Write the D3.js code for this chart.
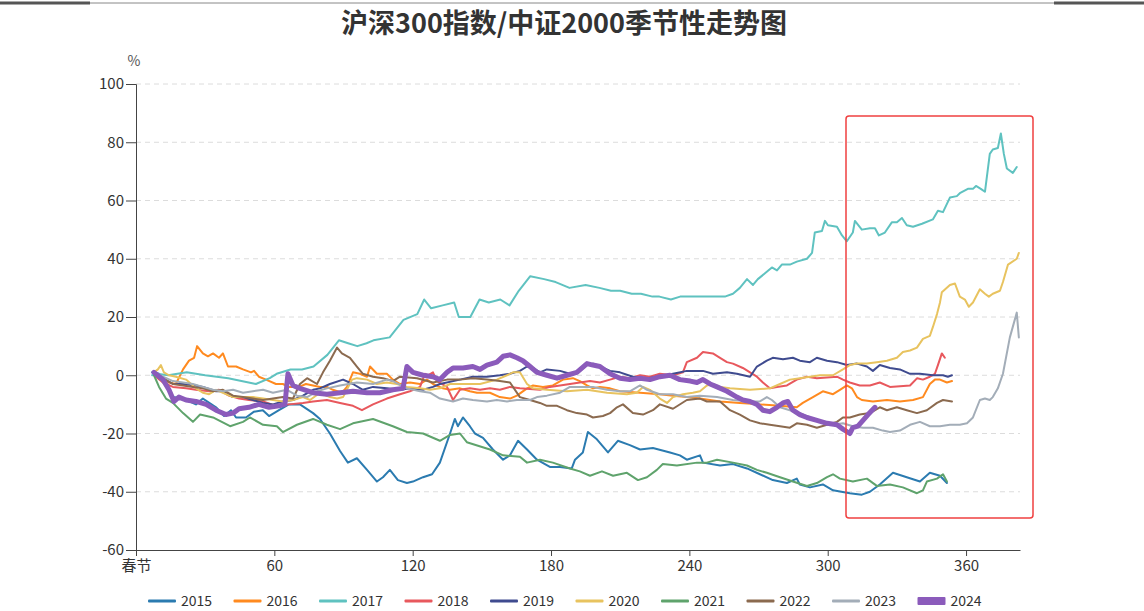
<!DOCTYPE html>
<html><head><meta charset="utf-8">
<script src="https://cdn.jsdelivr.net/npm/d3@7"></script>
<style>
html,body{margin:0;padding:0;background:#fff;}
svg{display:block;font-family:"Noto Sans CJK SC","Noto Sans",sans-serif;}
</style></head>
<body><svg id="c" width="1144" height="611"></svg>
<script>
const title = "沪深300指数/中证2000季节性走势图";
const years = ["2015","2016","2017","2018","2019","2020","2021","2022","2023","2024"];
const colors = ["#2b7bb0","#ff8a1f","#5fc2c0","#e8585d","#3f4b8f","#e8c35f","#5fa36c","#8b6a4f","#a3adb8","#8b5bbb"];
const xTickValues = [0,60,120,180,240,300,360];
const xTickLabels = ["春节","60","120","180","240","300","360"];
const yTickValues = [-60,-40,-20,0,20,40,60,80,100];
const yTickLabels = ["-60","-40","-20","0","20","40","60","80","100"];
const xMax = 383.4;

const s2015 = [[7,1],[10,0.5],[13,-3],[14.3,-5],[16,-7.5],[20.4,-8],[26,-10],[29,-8],[34.7,-11],[38.2,-14],[41.2,-12],[43.4,-14.5],[47.7,-14.5],[51.2,-12.5],[55,-12],[57.7,-14],[62,-12],[66.3,-10],[71.1,-10],[76.8,-13],[79.8,-15],[84.1,-20],[88.5,-26],[91.9,-30],[95.8,-28.5],[100.2,-32.5],[104.5,-36.5],[107.1,-35],[110.1,-32.5],[113.6,-36],[117.5,-37],[120.1,-36.5],[124.5,-35],[128.4,-34],[131.8,-30],[136.2,-20],[138.3,-15],[139.6,-17.5],[141.8,-14.5],[144.8,-17.5],[147,-20],[150.5,-21.5],[154.8,-25.5],[159.2,-29],[162.2,-27.5],[165.7,-22.5],[169.6,-25.5],[173.9,-29],[179.5,-31.5],[183.9,-31.5],[189,-32],[190.4,-29],[193.8,-26.5],[196,-19.5],[199.9,-22],[204.7,-26.5],[209,-22.5],[214.2,-24],[218.6,-25.5],[224.2,-25],[231.6,-26.5],[235.9,-27.5],[238.9,-29],[244.6,-27.5],[245.9,-30],[253.3,-31],[258.9,-30.5],[265,-32],[270.6,-34],[276.2,-36],[282.3,-37],[286.6,-35.5],[287.9,-37.5],[292.3,-38.5],[297.9,-37.5],[302.3,-39.5],[309.6,-40.5],[314.8,-41],[318.3,-40],[322.6,-37.5],[328.3,-33.5],[334.3,-35],[340,-36.5],[344.3,-33.5],[348.7,-34.5],[351.7,-37]];
const s2016 = [[7.8,1],[11.7,-1.5],[14.3,-2.5],[17.3,-3],[20.4,2],[23,5],[25.2,6],[26.5,10],[29,7.5],[31.2,6.5],[33.4,7.5],[36,6],[37.7,7.5],[39.9,3],[43.4,3],[46.4,2],[49.9,1],[51.2,1.5],[53.3,-0.5],[56.4,-1.5],[60.7,-3],[63.7,-3],[66.3,-4],[70.7,-4],[73.7,-3],[76.8,-3.5],[79.8,-4],[82.8,-4],[85.4,-5],[89.3,-6],[91.5,-4],[94.1,1],[97.1,0.5],[100.2,-0.5],[101.5,3],[104.5,0.5],[108.8,0.5],[111.4,-1.5],[114.5,-3],[118.8,-2.5],[123.2,-3],[126.2,-1.5],[128.8,-3],[133.1,-4.5],[136.2,-5],[140.5,-4.5],[144.8,-5.5],[147.9,-6],[153.5,-6],[157.8,-7.5],[162.2,-8],[165.2,-7],[169.6,-4.5],[172.2,-3.5],[176.5,-4],[180.8,-3.5],[185.2,-1.5],[189.5,-1],[192.5,-2],[195.6,-3.5],[198.2,-4.5],[201.2,-4],[205.6,-4.5],[209.9,-5.5],[218.6,-6],[227.2,-6.5],[232.9,-7],[238.9,-7.5],[244.6,-8],[253.3,-9],[261.9,-9.5],[270.6,-10],[279.3,-10.5],[286.6,-11],[289.2,-9.5],[293.6,-7.5],[297.9,-5.5],[302.3,-6.5],[305.3,-5],[308.3,-3.5],[310.5,-4.5],[312.7,-7.5],[314.8,-8.5],[319.6,-9],[325.7,-8.5],[331.3,-9],[337,-8.5],[341.3,-7.5],[344.3,-3],[346.5,-1.5],[348.7,-1.5],[351.7,-2.5],[353.9,-2]];
const s2017 = [[7,0],[9,0.5],[14,0],[22,1],[30,0],[40,-1],[52,-3],[58,-1],[61,0.5],[67,2],[72,2],[77,3],[83,7],[88,12],[92,11],[96,10],[100,11],[103,12],[110,13],[113,16],[116,19],[122,21],[125,26],[128,23],[133,24],[138,25],[140,20],[145,20],[149,26],[153,25],[158,26],[162,24],[166,29],[171,34],[177,33],[182,32],[188,30],[195,31],[201,30],[206,29],[210,29],[215,28],[219,28],[224,27],[227,27],[232,26],[236,27],[244.6,27],[255.4,27],[258.9,28],[261.9,30],[265,33],[267.6,31],[269.7,33],[272.8,35],[275.8,37],[278,36],[280.1,38],[283.6,38],[286.6,39],[291,40],[293.2,42],[294.4,49],[297.5,49.5],[298.8,53],[300.1,51.5],[304,51],[306.2,48],[308.3,46],[310.9,49],[311.8,53],[314.8,50],[318.3,50.5],[320.5,50.5],[322.2,48],[324.8,49],[327.8,52.5],[330,52.5],[332.2,54],[334.3,51.5],[337,51],[340.9,52],[345.6,53.5],[347.8,56.5],[350,56],[353,61],[356,61.5],[357.3,62.5],[360.8,64],[363,64],[364.3,65],[366.4,64],[368.2,63],[370.3,76],[371.6,77.5],[373.8,78],[375.1,83],[376.4,76],[377.7,71],[380.3,69.5],[382,71.5]];
const s2018 = [[7.8,0],[11.7,-2.5],[16,-4],[21.7,-4.5],[26,-5],[31.7,-5.5],[36,-5],[40.3,-7],[44.7,-8],[49,-8.5],[55.1,-9],[60.7,-10.5],[66.3,-10],[72.4,-9.5],[76.8,-9],[82.8,-8.5],[88.5,-9.5],[94.1,-10.5],[98,-12],[102.8,-10],[108.8,-8],[114.5,-6.5],[118.8,-5.5],[123.2,-4],[125.3,0.5],[126.6,0],[128.8,1],[130.5,-2],[134.9,-4],[137.5,-8.5],[140.5,-5],[144.8,-4.5],[149.2,-5],[153.5,-4.5],[157.8,-5],[162.2,-4],[166.5,-4.5],[175.2,-5],[179.5,-4],[183.9,-3.5],[192.5,-2.5],[196.9,-2],[201.2,-2.5],[205.6,-1.5],[209.9,-0.5],[214.2,-1],[218.6,0],[222.9,-0.5],[227.2,0.5],[232.9,0],[237.2,1],[238.9,4.5],[243.3,6],[245.9,8],[250.2,7.5],[253.3,6],[256.3,4.5],[258.9,4],[263.2,2.5],[266.3,1],[269.3,-0.5],[271.9,-2.5],[274.9,-4.5],[278,-4],[282.3,-3.5],[286.6,-1.5],[291,-0.5],[295.3,-1],[304,-0.5],[306.6,-1.5],[309.6,-2.5],[313.9,-3.5],[318.3,-3.5],[322.6,-2.5],[327,-4],[335.7,-3.5],[338.8,-1],[341.3,-1.5],[344.3,-0.5],[346.5,0.5],[347.8,3.5],[349.5,7.5],[350.8,6]];
const s2019 = [[7.8,1],[11.7,-1],[16,-3],[20.4,-3],[26,-3.5],[29,-4],[34.7,-5.5],[37.7,-5.5],[42.1,-7.5],[46.4,-7.5],[50.7,-8.5],[55.1,-9.5],[59.4,-10],[63.7,-9],[68.1,-8.5],[72.4,-7],[76.8,-5],[79.8,-4.5],[84.1,-3],[89.8,-1.5],[94.1,-3],[98.4,-5],[102.8,-4],[108.8,-4.5],[114.5,-5],[118.8,-4.5],[124.5,-5],[128.8,-4],[131.8,-3],[140.5,-1.5],[146.1,-0.5],[152.2,-0.5],[157.8,0],[162.2,0.5],[166.5,1.5],[169.6,3],[172.2,2.5],[175.2,1],[178.2,2],[183.9,1.5],[188.2,0.5],[192.5,1.5],[195.6,3.5],[198.2,4],[201.2,3],[205.6,1.5],[209.9,1],[215.5,-0.5],[221.6,-1],[227.2,-0.5],[232.9,0.5],[238.9,1.5],[245.9,1.5],[250.2,0.5],[256.3,1],[260.6,0.5],[266.3,-0.5],[269.3,3],[273.6,5],[276.2,6],[280.6,5.5],[284.9,6],[287.9,5],[292.3,4.5],[295.3,6],[299.7,5],[304,4.5],[308.3,3.5],[312.7,4],[317,3],[319.6,1.5],[322.6,3.5],[327,2.5],[331.3,2],[335.7,0.5],[340,0.5],[345.6,0],[350,0],[352.1,-0.5],[353.9,0]];
const s2020 = [[7.8,1],[9.5,2],[10.8,3.5],[12.1,1],[14.3,0],[17.3,-0.5],[21.7,-1.5],[26,-4.5],[29,-6],[31.7,-6.5],[34.7,-5],[37.7,-6],[42.1,-7.5],[46.4,-7.5],[50.7,-7.5],[55.1,-8],[59.4,-8.5],[63.7,-9],[68.1,-8.5],[72.4,-7.5],[75.5,-8.5],[79.8,-6],[84.1,-7.5],[87.2,-8],[89.8,-7.5],[93.7,-1.5],[95.8,-1],[100.2,-1.5],[104.5,-3],[108.8,-2.5],[113.2,-3],[117.5,-4],[123.2,-4.5],[127.5,-5],[131.8,-4.5],[136.2,-3],[140.5,-3],[149.2,-3],[156.5,-1.5],[160.9,0],[163.5,1],[166.5,1],[169.6,-3],[172.2,-4.5],[178.2,-5],[186.9,-5.5],[195.6,-5],[204.3,-6],[212.9,-6.5],[217.2,-6],[219.9,-4],[222.9,-5],[227.2,-8],[230.3,-9.5],[232.9,-7.5],[237.2,-6.5],[241.5,-6],[244.6,-5.5],[247.6,-3.5],[250.2,-3],[253.3,-4],[257.6,-4.5],[266.3,-5],[274.9,-4.5],[279.3,-3],[283.6,-1.5],[287.9,-1],[292.3,-0.5],[296.6,0],[302.3,0],[306.6,2],[309.6,3.5],[312.7,4],[317,4],[321.3,4.5],[325.7,5],[330,6],[332.6,8],[335.7,8.5],[338.7,9.5],[341.3,12.5],[344.3,13.5],[345.6,16.5],[347.4,21],[348.7,25],[349.5,28.5],[353,31],[355.2,31.5],[357.3,27],[359.5,26],[361.2,23.5],[363,25],[366,29.5],[368.2,28],[369.9,27],[371.6,28],[374.7,29],[376,32],[378.2,38],[382,40],[382.9,42]];
const s2021 = [[7.8,0],[10,-4],[13,-8],[16,-9.5],[20.4,-13],[24.7,-16],[27.8,-13.5],[33.4,-14.5],[40.8,-17.5],[46.4,-16],[49.4,-14.5],[55.1,-17],[61.1,-17.5],[63.7,-19.5],[69.8,-17],[76.8,-15],[82.8,-17],[88.5,-18.5],[94.1,-16.5],[102.8,-15],[111.4,-17.5],[117.5,-19.5],[124.5,-20],[131.8,-22.5],[136.2,-20.5],[140.5,-20],[143.5,-23],[153.5,-25.5],[159.2,-27.5],[166.5,-28],[169.6,-30],[175.2,-29],[180.8,-30],[188.2,-32],[192.5,-33],[196.9,-34.5],[202.1,-33],[206.9,-34.5],[212.9,-33.5],[217.7,-36],[221.6,-35],[225.9,-32.5],[228.5,-30.5],[234.6,-31],[243.3,-30],[247.6,-30],[252,-29],[258.9,-30],[265,-31],[269.3,-32.5],[273.6,-33.5],[279.3,-35],[284.9,-36.5],[291,-38],[295.3,-37],[299.7,-35],[302.3,-34],[305.3,-35.5],[310.9,-36.5],[317,-35.5],[321.3,-38],[327,-37.5],[332.6,-38.5],[338.7,-40.5],[341.3,-39.5],[343,-36.5],[347.4,-35.5],[350,-34],[351.7,-36.5]];
const s2022 = [[7.8,1],[11.7,-1],[16,-3],[20.4,-3.5],[24.7,-4],[29,-4.5],[33.4,-5.5],[37.7,-5],[42.1,-7],[46.4,-7.5],[50.7,-8],[55.1,-8.5],[59.4,-8],[63.7,-7.5],[68.1,-8],[71.1,-3],[74.2,-1],[78.5,-3],[81.1,1],[84.1,5],[87.2,9.5],[89.3,7.5],[92.8,6],[95.8,3],[98.4,0.5],[102.8,-0.5],[107.1,-1],[111.4,-2],[114.5,-0.5],[121.9,-1],[128.8,-2.5],[134.9,-1.5],[140.5,-1.5],[146.1,-1],[152.2,-1.5],[157.8,-2],[162.2,-2.5],[166.5,-7.5],[170.9,-8.5],[175.2,-9.5],[178.2,-10.5],[182.6,-10.5],[186.9,-12],[191.2,-13],[195.6,-13.5],[198.2,-14.5],[202.5,-14],[205.6,-13],[208.6,-11],[211.2,-10],[215.5,-13],[219.9,-13.5],[224.2,-12],[227.2,-10],[232.9,-11.5],[238.9,-8.5],[244.6,-8],[247.6,-9],[253.3,-9],[257.6,-12],[261.9,-13.5],[266.3,-15.5],[270.6,-16.5],[274.9,-17],[279.3,-17.5],[283.6,-18],[286.6,-16.5],[291,-17],[295.3,-18],[299.7,-17],[304,-16],[306.6,-14.5],[309.6,-14.5],[313.9,-13.5],[318.3,-13],[322.6,-11],[325.7,-12],[330,-11],[334.3,-12],[338.7,-13],[343,-12],[347.4,-9.5],[350,-8.5],[353.9,-9]];
const s2023 = [[7.8,1],[11.7,-0.5],[16,-2],[20.4,-2.5],[24.7,-3],[29,-4],[33.4,-5],[37.7,-5.5],[42.1,-5],[46.4,-6],[50.7,-5.5],[55.1,-5],[59.4,-6],[65.5,-5],[69.8,-7],[74.2,-7.5],[78.5,-5.5],[82.8,-4.5],[88.5,-3.5],[95.8,-2.5],[102.8,-3],[108.8,-1.5],[111.4,-2],[117.5,-4.5],[123.2,-5.5],[127.5,-6],[131.8,-8],[137.5,-9],[141.8,-8],[146.1,-8.5],[152.2,-9],[156.5,-8.5],[160.9,-9],[165.2,-8.5],[170.9,-8.5],[173.9,-7.5],[178.2,-7],[183.9,-6],[188.2,-4],[198.2,-4],[204.3,-5],[209.9,-5.5],[214.2,-5.5],[218.6,-3.5],[221.6,-5],[227.2,-6.5],[232.9,-6.5],[238.9,-7.5],[244.6,-7],[252,-7.5],[258.9,-8.5],[266.3,-9],[270.6,-9],[273.6,-7.5],[275.8,-8.5],[279.3,-11],[283.6,-12],[287.9,-13],[292.3,-14.5],[296.6,-16],[302.3,-17],[306.6,-16.5],[310.9,-17.5],[315.3,-18],[319.6,-18],[323.9,-19],[327,-19.5],[331.3,-19],[335.7,-17],[340,-16],[344.3,-17.5],[348.7,-17.5],[353,-17],[357.3,-17],[360.4,-16.5],[363,-14.5],[366,-8.5],[368.2,-8],[370.3,-8.5],[371.6,-7.5],[373.8,-4.5],[376,0.5],[379,13],[382,21.5],[382.9,13]];
const s2024 = [[7.8,1],[11.7,-1.5],[14.3,-5],[16.5,-9],[18.6,-7.5],[21.7,-8.5],[26,-9],[30.4,-10],[34.7,-12],[39,-13.5],[42.1,-13],[44.7,-11.5],[49,-11],[53.3,-10],[57.7,-11],[62,-10.5],[64.6,-10],[65.9,0.5],[68.1,-3.5],[71.1,-4.5],[76.8,-6],[82.8,-6.5],[88.5,-6],[94.1,-5.5],[100.2,-6],[105.8,-6],[111.4,-5],[115.8,-4.5],[117.5,3],[120.1,1],[124.5,0],[128.8,-0.5],[131.8,-1.5],[134.9,1],[137.5,2.5],[141.8,2.5],[146.1,3],[149.2,2],[152.2,3.5],[156.5,4.5],[159.2,6.5],[162.2,7],[165.2,6],[167.8,5],[170.9,3],[173.9,1],[178.2,0],[182.6,-1],[186.9,0],[191.2,1],[195.6,4],[198.2,3.5],[201.2,3],[205.6,0.5],[209.9,-1],[214.2,-1.5],[218.6,-1],[222.9,-1.5],[227.2,-0.5],[231.6,0],[235.9,-1.5],[240.4,-2],[243.3,-2.5],[245.9,-1.5],[249,-3],[252,-4],[256.3,-5.5],[260.6,-7.5],[263.2,-8.5],[266.3,-9],[269.3,-10],[271.9,-12],[274.9,-12.5],[278,-11],[280.6,-9.5],[282.7,-9],[284.9,-12],[287.9,-13.5],[291,-14.5],[295.3,-15.5],[299.7,-16.5],[304,-17],[306.6,-18.5],[309.6,-20],[310.9,-18],[313.1,-17.5],[315.3,-15.5],[317.5,-13.5],[320.5,-11]];
const seriesData = [s2015,s2016,s2017,s2018,s2019,s2020,s2021,s2022,s2023,s2024];
const lineWidths = [2,2,2,2,2,2,2,2,2,5];

const svg = d3.select("#c");
const M = {left:136, top:84, right:1020, bottom:550};
const x = d3.scaleLinear().domain([0, xMax]).range([M.left, M.right]);
const y = d3.scaleLinear().domain([-60, 100]).range([M.bottom, M.top]);

// decorative top rule
svg.append("line").attr("x1",0).attr("x2",1144).attr("y1",3).attr("y2",3).attr("stroke","#888").attr("stroke-width",1);
svg.append("rect").attr("x",0).attr("y",1.5).attr("width",90).attr("height",3).attr("fill","#555");
svg.append("rect").attr("x",1054).attr("y",1.5).attr("width",90).attr("height",3).attr("fill","#555");

svg.append("text").attr("x",564).attr("y",33).attr("text-anchor","middle")
  .attr("font-size",27).attr("font-weight","bold").attr("fill","#333").text(title);

// grid
svg.append("g").selectAll("line").data(yTickValues.filter(v=>v>-60)).join("line")
  .attr("x1",M.left).attr("x2",M.right).attr("y1",d=>y(d)).attr("y2",d=>y(d))
  .attr("stroke","#dcdcdc").attr("stroke-dasharray","5,4").attr("stroke-width",1);

// y axis
const yAxis = svg.append("g").attr("transform",`translate(${M.left},0)`)
  .call(d3.axisLeft(y).tickValues(yTickValues).tickSize(10).tickPadding(2).tickFormat((d,i)=>yTickLabels[i]));
yAxis.select(".domain").attr("stroke","#444");
yAxis.selectAll(".tick line").attr("stroke","#444");
yAxis.selectAll("text").attr("font-size",15).attr("fill","#333").attr("font-family","'Noto Sans CJK SC',sans-serif");

svg.append("text").attr("x",134).attr("y",66).attr("text-anchor","middle").attr("font-size",14).attr("fill","#555").text("%");

// x axis
const xAxis = svg.append("g").attr("transform",`translate(0,${M.bottom})`)
  .call(d3.axisBottom(x).tickValues(xTickValues).tickSize(6).tickPadding(4).tickFormat((d,i)=>xTickLabels[i]).tickSizeOuter(0));
xAxis.select(".domain").attr("stroke","#444");
xAxis.selectAll(".tick line").attr("stroke","#444");
xAxis.selectAll("text").attr("font-size",15).attr("fill","#333").attr("font-family","'Noto Sans CJK SC',sans-serif");

// lines
const line = d3.line().x(d=>x(d[0])).y(d=>y(d[1]));
svg.append("g").selectAll("path").data(seriesData).join("path")
  .attr("d",d=>line(d)).attr("fill","none")
  .attr("stroke",(d,i)=>colors[i]).attr("stroke-width",(d,i)=>lineWidths[i])
  .attr("stroke-linejoin","round").attr("stroke-linecap","round");

// highlight box
svg.append("rect").attr("x",846).attr("y",116).attr("width",187).attr("height",402).attr("rx",3)
  .attr("fill","none").attr("stroke","#f04040").attr("stroke-width",1.5);

// legend
const lg = svg.append("g").selectAll("g").data(years).join("g")
  .attr("transform",(d,i)=>`translate(${148 + i*85.5},601)`);
lg.append("rect").attr("x",0).attr("y",(d,i)=>i===9?-4:-1.5).attr("width",28).attr("height",(d,i)=>i===9?8:3)
  .attr("rx",1).attr("fill",(d,i)=>colors[i]);
lg.append("text").attr("x",33).attr("y",5).attr("font-size",14).attr("fill","#333").text(d=>d);
</script></body></html>
